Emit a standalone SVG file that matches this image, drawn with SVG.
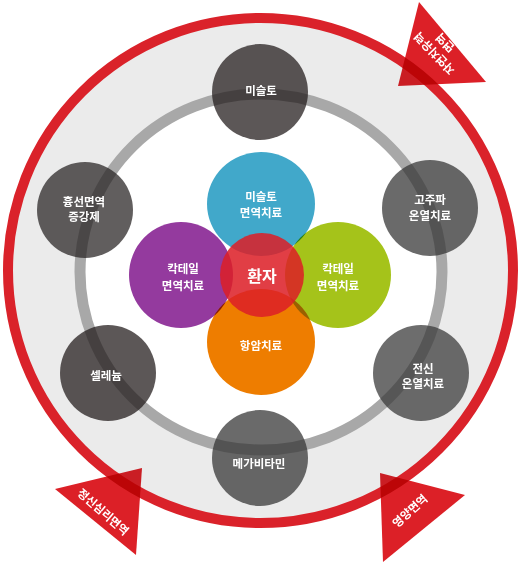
<svg xmlns="http://www.w3.org/2000/svg" width="523" height="565" viewBox="0 0 523 565">
<style>
text{font-family:"Noto Sans CJK KR","Noto Sans",sans-serif;fill:#fff;text-anchor:middle;font-weight:bold}
.t{font-size:11.5px}
.g{opacity:.74}
.c{mix-blend-mode:multiply}
.a{fill:#dc2027;mix-blend-mode:multiply}
.at{font-size:11.5px}
</style>
<rect width="523" height="565" fill="#fff"/>
<g id="rings">
<circle cx="260.5" cy="270.5" r="252.5" fill="#ebebeb" stroke="#da222a" stroke-width="10"/>
<ellipse cx="261" cy="272" rx="181" ry="178" fill="#fff" stroke="#a8a8a8" stroke-width="11"/>
</g>
<g id="connectors">
<polygon class="a" points="419,2 486,82 398,86"/>
<polygon class="a" points="55,489 142,468 136,555"/>
<polygon class="a" points="380,473 465,495 383,562"/>
<g transform="translate(440,48) rotate(-134)"><text class="at" y="-3.5">자연치유력</text><text class="at" y="11.5">면역</text></g>
<text class="at" transform="translate(103,512) rotate(41)" y="4">정신심리면역</text>
<text class="at" transform="translate(410,511) rotate(-42)" y="4">영양면역</text>
</g>
<g id="node-misulto"><ellipse class="g" cx="260" cy="92" rx="48" ry="48" fill="#231c1d"/><text class="t" x="261" y="95">미슬토</text></g>
<g id="node-thymus"><ellipse class="g" cx="85" cy="210" rx="48" ry="48" fill="#2a2626"/><text class="t" x="84" y="206">흉선면역</text><text class="t" x="84" y="221">증강제</text></g>
<g id="node-hyperthermia"><ellipse class="g" cx="430" cy="208" rx="48" ry="48" fill="#363636"/><text class="t" x="430" y="204">고주파</text><text class="t" x="430" y="220">온열치료</text></g>
<g id="node-selenium"><ellipse class="g" cx="108" cy="373" rx="48" ry="48" fill="#231c1d"/><text class="t" x="106" y="380">셀레늄</text></g>
<g id="node-whole-body"><ellipse class="g" cx="421" cy="373" rx="48" ry="48" fill="#3a3a3a"/><text class="t" x="423" y="373">전신</text><text class="t" x="423" y="388">온열치료</text></g>
<g id="node-megavitamin"><ellipse class="g" cx="260" cy="458" rx="48" ry="48" fill="#363636"/><text class="t" x="259" y="468">메가비타민</text></g>
<g id="center-circles">
<ellipse class="c" cx="261" cy="204" rx="54" ry="52" fill="#41a8ca"/>
<ellipse class="c" cx="181" cy="275" rx="52" ry="53" fill="#943a9e"/>
<ellipse class="c" cx="338" cy="275" rx="53" ry="53" fill="#a5c31a"/>
<ellipse class="c" cx="261" cy="342" rx="54" ry="53" fill="#ee7d00"/>
</g>
<g id="node-misulto-immuno"><text class="t" x="261" y="201">미슬토</text><text class="t" x="261" y="217">면역치료</text></g>
<g id="node-cocktail-left"><text class="t" x="183" y="273">칵테일</text><text class="t" x="183" y="290">면역치료</text></g>
<g id="node-cocktail-right"><text class="t" x="338" y="273">칵테일</text><text class="t" x="338" y="290">면역치료</text></g>
<g id="node-chemo"><text class="t" x="261" y="350">항암치료</text></g>
<g id="node-patient"><circle cx="262" cy="275" r="42" fill="#dc1e26" opacity=".86"/><text x="262" y="282" style="font-size:16px">환자</text></g>
</svg>
